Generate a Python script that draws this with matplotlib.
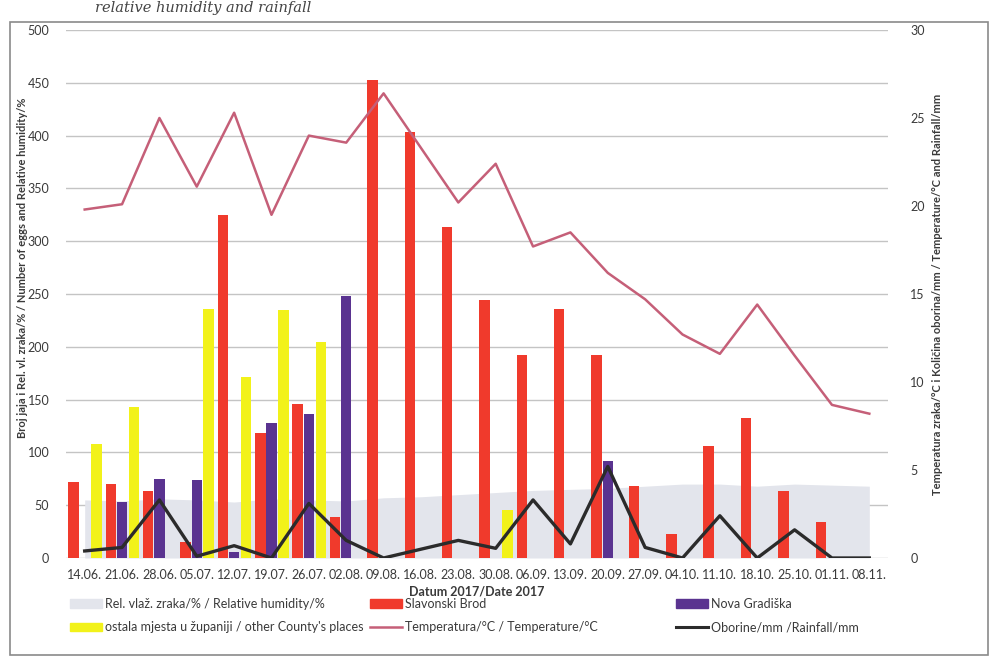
import matplotlib
matplotlib.use("Agg")
import matplotlib.pyplot as plt
from matplotlib.patches import Rectangle, Patch
from matplotlib.lines import Line2D
import numpy as np

plt.rcParams['font.family'] = ['Lato', 'DejaVu Sans']

dates = ["14.06.", "21.06.", "28.06.", "05.07.", "12.07.", "19.07.", "26.07.", "02.08.",
         "09.08.", "16.08.", "23.08.", "30.08.", "06.09.", "13.09.", "20.09.", "27.09.",
         "04.10.", "11.10.", "18.10.", "25.10.", "01.11.", "08.11."]

humidity = [55, 54, 56, 55, 53, 56, 55, 54, 57, 58, 60, 62, 64, 65, 66, 68, 70, 70, 68, 70, 69, 68]
slavonski_brod = [72, 70, 63, 15, 325, 118, 146, 39, 453, 403, 313, 244, 192, 236, 192, 68,
                  23, 106, 133, 63, 34, 0]
nova_gradiska = [0, 53, 75, 74, 6, 128, 136, 248, 0, 0, 0, 0, 0, 0, 92, 0, 0, 0, 0, 0, 0, 0]
ostala_mjesta = [108, 143, 0, 236, 171, 235, 205, 0, 0, 0, 0, 45, 0, 0, 0, 0, 0, 0, 0, 0, 0, 0]
temperature = [19.8, 20.1, 25.0, 21.1, 25.3, 19.5, 24.0, 23.6, 26.4, 23.3, 20.2, 22.4, 17.7,
               18.5, 16.2, 14.7, 12.7, 11.6, 14.4, 11.5, 8.7, 8.2]
rainfall = [0.4, 0.6, 3.3, 0.1, 0.7, 0.0, 3.1, 1.0, 0.0, 0.5, 1.0, 0.55, 3.3, 0.8, 5.2, 0.6,
            0.0, 2.4, 0.0, 1.6, 0.0, 0.0]

left_ticks = [0, 50, 100, 150, 200, 250, 300, 350, 400, 450, 500]
right_ticks = [0, 5, 10, 15, 20, 25, 30]

RED = "#f03a2c"
PURPLE = "#5a3390"
YELLOW = "#f2f21a"
HUM = "#e3e5ec"
TEMP = "#c55f78"
RAIN = "#2b2b2b"
TXT = "#3a3a3a"

W, H = 1003, 671
fig = plt.figure(figsize=(W / 100, H / 100), dpi=100)
ax = fig.add_axes([66 / W, 1 - 558 / H, (888 - 66) / W, (558 - 30) / H])
ax2 = ax.twinx()

x = np.arange(len(dates))
bw = 0.28
ax.fill_between(x, 0, humidity, color=HUM, zorder=1, linewidth=0)
ax.bar(x - 0.3, slavonski_brod, bw, color=RED, zorder=2)
ax.bar(x, nova_gradiska, bw, color=PURPLE, zorder=2)
ax.bar(x + 0.32, ostala_mjesta, bw, color=YELLOW, zorder=2)

ax2.plot(x, temperature, color=TEMP, lw=1.8, zorder=3)
ax2.plot(x, rainfall, color=RAIN, lw=2.4, zorder=3)

ax.set_xlim(-0.5, len(dates) - 0.5)
ax.set_ylim(0, 500)
ax2.set_ylim(0, 30)
ax.set_yticks(left_ticks)
ax2.set_yticks(right_ticks)
ax.set_xticks(x)
ax.set_xticklabels(dates)

for a in (ax, ax2):
    for s in a.spines.values():
        s.set_visible(False)
ax.yaxis.grid(True, color="#c4c4c4", lw=1.0, zorder=0)
ax.set_axisbelow(True)
ax.tick_params(axis='x', length=0, pad=8, labelsize=9.0, labelcolor=TXT)
ax.tick_params(axis='y', length=0, pad=12, labelsize=9, labelcolor=TXT)
ax2.tick_params(axis='y', length=0, pad=16, labelsize=9, labelcolor=TXT)

ax.set_ylabel("Broj jaja i Rel. vl. zraka/% / Number of eggs and Relative humidity/%",
              fontsize=8, color=TXT, fontweight='bold')
ax.yaxis.set_label_coords(-0.046, 0.55)
ax2.set_ylabel("Temperatura zraka/°C i Količina oborina/mm / Temperature/°C and Rainfall/mm",
               fontsize=8, color=TXT, fontweight='bold', rotation=90)
ax2.yaxis.set_label_coords(1.054, 0.5)
ax.set_xlabel("Datum 2017/Date 2017", fontsize=9, color=TXT, fontweight='bold', labelpad=3)

legend_cols = [
    ([Patch(color=HUM), Patch(color=YELLOW)],
     ["Rel. vlaž. zraka/% / Relative humidity/%",
      "ostala mjesta u županiji / other County's places"], 70),
    ([Patch(color=RED), Line2D([0], [0], color=TEMP, lw=1.8)],
     ["Slavonski Brod", "Temperatura/°C / Temperature/°C"], 370),
    ([Patch(color=PURPLE), Line2D([0], [0], color=RAIN, lw=2.2)],
     ["Nova Gradiška", "Oborine/mm /Rainfall/mm"], 676),
]
for hs, ls, px in legend_cols:
    leg = fig.legend(hs, ls, ncol=1, loc='upper left', bbox_to_anchor=(px / W, 1 - 598 / H),
                     frameon=False, fontsize=9, labelcolor=TXT, handlelength=2.6,
                     handleheight=0.7, handletextpad=0.2, labelspacing=0.9, borderaxespad=0,
                     borderpad=0)

fig.add_artist(Rectangle((10 / W, 1 - 655 / H), 978 / W, (655 - 22) / H,
                         transform=fig.transFigure, fill=False, edgecolor="#8a8a8a", lw=1.2))
fig.text(95 / W, 1 - 1 / H, "relative humidity and rainfall", fontsize=10.5, family='DejaVu Serif',
         style='italic', color="#444444", va='top')

fig.savefig("out.png", dpi=100, facecolor="white")
